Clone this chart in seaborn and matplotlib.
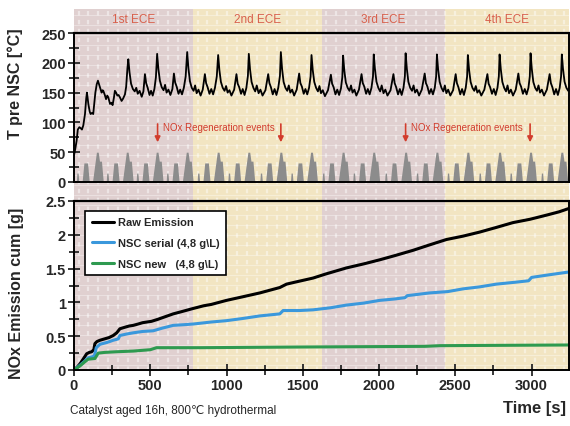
# NSC temperature trace + cumulative NOx over 4 ECE blocks
import matplotlib
matplotlib.use("Agg")
import matplotlib.pyplot as plt
import matplotlib.transforms as mtransforms
from matplotlib.patches import Rectangle
from matplotlib.ticker import MultipleLocator, FormatStrFormatter
import numpy as np
import seaborn as sns

# ── Data ──────────────────────────────────────────────────────────────────────
# ECE block borders [s] and labels
ece_edges = [0, 780, 1625, 2430, 3245]
ece_labels = ["1st ECE", "2nd ECE", "3rd ECE", "4th ECE"]
ece_colors = ["#e0d0d0", "#f2e5c2", "#e0d0d0", "#f2e5c2"]

# temperature pre NSC [°C]
temp_t = [
    0, 8, 17, 25, 35, 45, 52, 61, 72, 80, 85, 94, 103, 109, 118, 126, 140, 149,
    157, 165, 170, 181, 187, 192, 202, 210, 218, 225, 236, 245, 253, 262, 268,
    276, 284, 292, 301, 312, 322, 334, 342, 350,
    356, 364, 374, 386, 398, 408, 418, 430, 444, 455, 465, 473, 483, 495, 505, 516, 527, 537,
    545, 553, 563, 575, 587, 597, 607, 619, 632, 645, 655, 663, 673, 685, 696, 708, 720, 732,
    742, 750, 760, 772, 784, 794, 804, 816, 830, 844, 858, 866, 876, 888, 900, 912, 924, 936,
    945, 953, 963, 975, 987, 997, 1007, 1019, 1032, 1050, 1065, 1073, 1083, 1095, 1106, 1118, 1130, 1140,
    1146, 1154, 1164, 1176, 1188, 1198, 1210, 1222, 1236, 1255, 1273, 1281, 1291, 1303, 1315, 1327, 1339, 1350,
    1356, 1364, 1374, 1386, 1398, 1408, 1418, 1430, 1443, 1460, 1476, 1484, 1494, 1506, 1517, 1529, 1541, 1551,
    1557, 1565, 1575, 1587, 1599, 1609, 1619, 1631, 1645, 1665, 1684, 1692, 1702, 1714, 1726, 1738, 1750, 1759,
    1764, 1772, 1782, 1794, 1806, 1816, 1826, 1838, 1851, 1868, 1885, 1893, 1903, 1915, 1926, 1938, 1950, 1960,
    1965, 1973, 1983, 1995, 2007, 2017, 2029, 2041, 2055, 2075, 2094, 2102, 2112, 2124, 2136, 2148, 2160, 2169,
    2174, 2182, 2192, 2204, 2216, 2226, 2236, 2248, 2262, 2280, 2299, 2307, 2317, 2329, 2341, 2353, 2365, 2374,
    2379, 2387, 2397, 2409, 2421, 2431, 2441, 2453, 2467, 2485, 2502, 2510, 2520, 2532, 2544, 2556, 2568, 2577,
    2582, 2590, 2600, 2612, 2624, 2634, 2644, 2656, 2670, 2690, 2710, 2718, 2728, 2740, 2752, 2764, 2776, 2785,
    2790, 2798, 2808, 2820, 2832, 2842, 2852, 2864, 2878, 2896, 2913, 2921, 2931, 2943, 2955, 2967, 2979, 2988,
    2993, 3001, 3011, 3023, 3035, 3045, 3055, 3067, 3081, 3100, 3118, 3126, 3136, 3148, 3160, 3172, 3184, 3193,
    3198, 3206, 3216, 3228, 3240, 3250,
]
temp_v = [
    45, 55, 69, 88, 92, 90, 88, 95, 114, 140, 150, 131, 118, 114, 116, 114, 150, 164,
    170, 163, 159, 150, 154, 153, 146, 139, 145, 142, 131, 133, 129, 142, 153,
    150, 145, 146, 142, 136, 140, 147, 160, 190,
    206, 184, 165, 156, 152, 158, 148, 153, 143, 152, 181, 166, 158, 146, 153, 145, 156, 176,
    215, 190, 170, 159, 154, 163, 150, 155, 146, 156, 182, 167, 160, 148, 155, 147, 158, 177,
    218, 191, 169, 158, 153, 162, 149, 155, 145, 155, 181, 166, 159, 148, 156, 147, 158, 177,
    213, 188, 168, 158, 153, 161, 150, 154, 145, 155, 181, 165, 159, 148, 156, 146, 158, 178,
    215, 189, 168, 158, 152, 162, 149, 155, 145, 154, 181, 166, 159, 147, 156, 146, 158, 178,
    218, 190, 168, 158, 153, 162, 150, 155, 145, 155, 182, 166, 160, 148, 156, 147, 158, 177,
    213, 188, 168, 158, 152, 161, 149, 154, 144, 154, 180, 165, 159, 147, 155, 146, 157, 176,
    212, 187, 167, 158, 153, 162, 150, 155, 145, 155, 181, 166, 160, 148, 156, 147, 158, 177,
    214, 189, 168, 158, 152, 162, 149, 155, 145, 154, 181, 166, 159, 147, 156, 146, 158, 177,
    216, 190, 168, 158, 153, 162, 150, 155, 145, 155, 182, 166, 160, 148, 156, 147, 158, 177,
    214, 189, 168, 158, 152, 162, 149, 155, 145, 154, 181, 166, 159, 147, 156, 146, 158, 177,
    213, 188, 168, 158, 153, 161, 150, 154, 145, 155, 181, 165, 159, 148, 156, 146, 158, 177,
    214, 189, 168, 158, 152, 162, 149, 155, 145, 155, 182, 166, 160, 148, 156, 147, 158, 177,
    216, 190, 168, 158, 153, 162, 150, 155, 145, 155, 181, 166, 159, 147, 156, 146, 158, 177,
    214, 189, 168, 158, 153, 160,
]

# vehicle speed (grey area): one ECE-15 urban cycle [s, km/h] and the cycle starts
ece_cycle_t = [0, 11, 15, 23, 28, 49, 61, 85, 96, 117, 143, 155, 163, 176, 188, 195]
ece_cycle_v = [0, 0, 15, 15, 0, 0, 32, 32, 0, 0, 50, 50, 35, 35, 0, 0]
cycle_start = [4, 200, 396, 593, 796, 997, 1207, 1408, 1615, 1816,
               2025, 2230, 2433, 2641, 2844, 3049]

# NOx regeneration arrows [s]
regen_t = [548, 1356, 2174, 2990]
regen_text_t = [583, 2211]

# cumulative NOx [g]
raw_t = [0, 20, 39, 60, 83, 100, 116, 130, 137, 150, 170, 200, 230, 257, 280, 301,
         330, 360, 388, 420, 450, 508, 550, 600, 650, 700, 781, 850, 900, 1000,
         1100, 1218, 1300, 1349, 1393, 1450, 1567, 1650, 1786, 1900, 2004, 2100,
         2222, 2330, 2441, 2550, 2659, 2770, 2877, 2990, 3096, 3180, 3245]
raw_v = [0, 0.04, 0.09, 0.16, 0.24, 0.26, 0.27, 0.30, 0.39, 0.42, 0.44, 0.46, 0.48,
         0.51, 0.55, 0.61, 0.63, 0.65, 0.66, 0.68, 0.70, 0.72, 0.75, 0.79, 0.83,
         0.86, 0.91, 0.95, 0.97, 1.03, 1.08, 1.14, 1.19, 1.22, 1.27, 1.30, 1.36,
         1.42, 1.51, 1.57, 1.63, 1.69, 1.77, 1.85, 1.93, 1.98, 2.04, 2.11, 2.18,
         2.23, 2.29, 2.34, 2.39]
serial_t = [0, 39, 70, 93, 126, 135, 146, 170, 220, 257, 290, 301, 340, 388, 450,
            519, 580, 650, 720, 781, 900, 1000, 1100, 1218, 1349, 1371, 1480, 1567,
            1680, 1786, 1900, 2004, 2100, 2170, 2185, 2331, 2450, 2550, 2660, 2768,
            2900, 2980, 3000, 3120, 3245]
serial_v = [0, 0.07, 0.13, 0.18, 0.20, 0.22, 0.33, 0.38, 0.41, 0.44, 0.46, 0.51,
            0.53, 0.55, 0.57, 0.58, 0.62, 0.66, 0.67, 0.68, 0.71, 0.73, 0.76, 0.80,
            0.83, 0.88, 0.88, 0.89, 0.92, 0.96, 0.99, 1.03, 1.05, 1.07, 1.10, 1.14,
            1.16, 1.20, 1.23, 1.27, 1.30, 1.32, 1.37, 1.41, 1.45]
new_t = [0, 39, 70, 93, 137, 159, 200, 279, 388, 500, 541, 825, 1480, 2300, 2400, 3245]
new_v = [0, 0.06, 0.12, 0.16, 0.17, 0.25, 0.26, 0.27, 0.28, 0.30, 0.33, 0.33, 0.34,
         0.35, 0.36, 0.37]

# ── Build speed series from the cycle template ───────────────────────────────
speed_t, speed_v = [], []
for s in cycle_start:
    speed_t.extend([s + c for c in ece_cycle_t])
    speed_v.extend(ece_cycle_v)

# ── Style ─────────────────────────────────────────────────────────────────────
sns.set_style("ticks")
plt.rcParams["font.family"] = ["Liberation Sans", "DejaVu Sans"]
plt.rcParams["axes.linewidth"] = 1.4

W, H = 570, 427
fig = plt.figure(figsize=(W / 100, H / 100), dpi=100)
left, right = 74 / W, 569 / W
ax_top = fig.add_axes([left, 1 - 183 / H, right - left, 149 / H])
ax_bot = fig.add_axes([left, 1 - 371 / H, right - left, 169 / H])
for ax in (ax_top, ax_bot):
    ax.set_facecolor("none")

# background ECE bands spanning both panels, with a light paper-like grid
trans = mtransforms.blended_transform_factory(ax_bot.transData, fig.transFigure)
y0, y1 = 1 - 372 / H, 1 - 10 / H
for i, lab in enumerate(ece_labels):
    x0, x1 = ece_edges[i], ece_edges[i + 1]
    fig.patches.append(Rectangle((x0, y0), x1 - x0, y1 - y0, transform=trans,
                                 facecolor=ece_colors[i], edgecolor="none", zorder=-3))
    fig.text((x0 + x1) / 2, 1 - 20 / H, lab, transform=trans, ha="center",
             va="center", fontsize=8.5, color="#d8604c")
for gx in range(30, 3245, 65):
    fig.lines.append(plt.Line2D([gx, gx], [y0, y1], transform=trans, color="white",
                                lw=1.6, alpha=0.45, ls=(0, (2, 2)), zorder=-2))
for py in range(16, 372, 10):
    fig.lines.append(plt.Line2D([0, 3245], [1 - py / H, 1 - py / H], transform=trans,
                                color="white", lw=0.8, alpha=0.35, zorder=-2))

# ── Top panel: temperature ────────────────────────────────────────────────────
ax_top.fill_between(speed_t, speed_v, 0, color="#8c8c8c", lw=0)
sns.lineplot(x=temp_t, y=temp_v, ax=ax_top, color="black", lw=1.3,
             estimator=None, sort=False)
for t in regen_t:
    ax_top.annotate("", xy=(t, 62), xytext=(t, 102),
                    arrowprops=dict(arrowstyle="-|>", color="#d23c2c", lw=1.2,
                                    mutation_scale=8))
for t in regen_text_t:
    ax_top.text(t, 92, "NOx Regeneration events", fontsize=7, color="#d23c2c",
                ha="left", va="center")
ax_top.set_xlim(0, 3245)
ax_top.set_ylim(0, 250)
ax_top.yaxis.set_major_locator(MultipleLocator(50))
ax_top.yaxis.set_minor_locator(MultipleLocator(25))
ax_top.set_xticks([])
ax_top.set_xlabel("")
ax_top.set_ylabel("")

# ── Bottom panel: cumulative NOx ──────────────────────────────────────────────
sns.lineplot(x=raw_t, y=raw_v, ax=ax_bot, color="black", lw=2.2,
             label="Raw Emission", estimator=None)
sns.lineplot(x=serial_t, y=serial_v, ax=ax_bot, color="#3a98dc", lw=2.2,
             label="NSC serial (4,8 g\\L)", estimator=None)
sns.lineplot(x=new_t, y=new_v, ax=ax_bot, color="#2e9a50", lw=2.2,
             label="NSC new   (4,8 g\\L)", estimator=None)
ax_bot.set_xlim(0, 3245)
ax_bot.set_ylim(0, 2.5)
ax_bot.xaxis.set_major_locator(MultipleLocator(500))
ax_bot.xaxis.set_minor_locator(MultipleLocator(250))
ax_bot.yaxis.set_major_locator(MultipleLocator(0.5))
ax_bot.yaxis.set_minor_locator(MultipleLocator(0.25))
ax_bot.yaxis.set_major_formatter(FormatStrFormatter("%g"))
ax_bot.set_xlabel("")
ax_bot.set_ylabel("")
leg = ax_bot.legend(loc="upper left", bbox_to_anchor=(0.012, 0.975),
                    frameon=True, fancybox=False, handlelength=2.0,
                    labelspacing=0.95, borderpad=0.6, handletextpad=0.3,
                    prop={"weight": "bold", "size": 8})
leg.get_frame().set_edgecolor("black")
leg.get_frame().set_linewidth(1.2)
leg.get_frame().set_alpha(1)

for ax in (ax_top, ax_bot):
    for sp in ax.spines.values():
        sp.set_visible(True)
        sp.set_color("black")
    ax.spines["top"].set_linewidth(1.6)
    ax.tick_params(which="both", direction="inout", width=1.3, labelsize=10.5,
                   pad=2)
    ax.tick_params(which="major", length=8)
    ax.tick_params(which="minor", length=7)
    for lab in ax.get_xticklabels() + ax.get_yticklabels():
        lab.set_fontweight("bold")
ax_top.tick_params(axis="x", which="both", length=0)

# axis labels and footnote
fig.text(15 / W, 1 - 84 / H, "T pre NSC [°C]", rotation=90, ha="center",
         va="center", fontsize=11.5, fontweight="bold")
fig.text(17 / W, 1 - 293 / H, "NOx Emission cum [g]", rotation=90, ha="center",
         va="center", fontsize=11.5, fontweight="bold")
fig.text(566 / W, 1 - 409 / H, "Time [s]", ha="right", va="center",
         fontsize=12, fontweight="bold")
fig.text(70 / W, 1 - 411 / H, "Catalyst aged 16h, 800℃ hydrothermal",
         ha="left", va="center", fontsize=8.5)

fig.savefig("out.png", dpi=100)
